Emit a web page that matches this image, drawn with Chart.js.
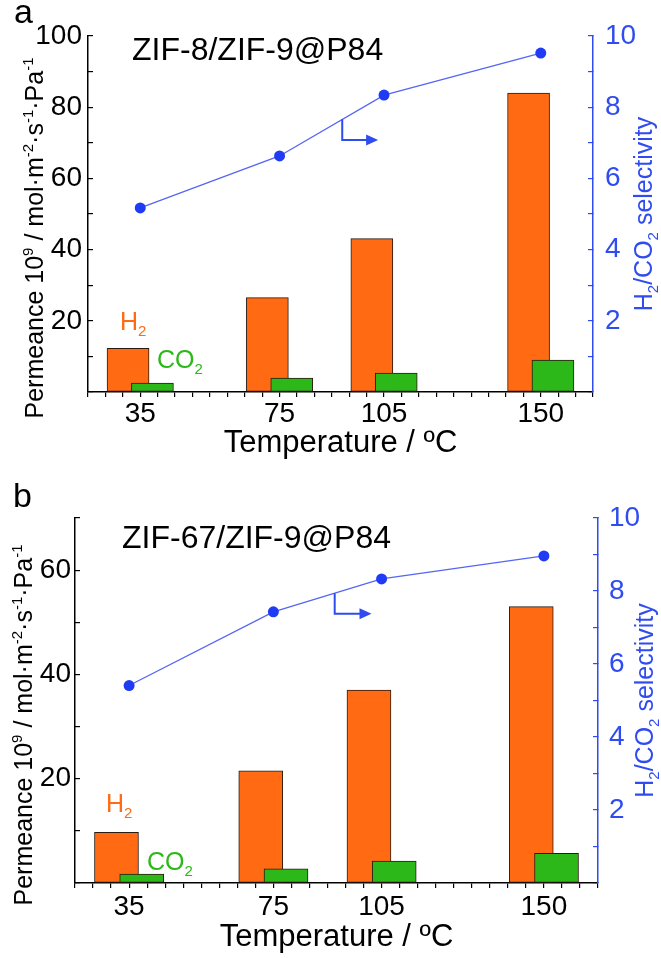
<!DOCTYPE html>
<html>
<head>
<meta charset="utf-8">
<script src="https://cdn.jsdelivr.net/npm/chart.js@4.4.1/dist/chart.umd.min.js"></script>
<style>
html, body { margin: 0; padding: 0; background: #fff; }
.panel { position: relative; width: 661px; }
#pa { height: 470px; }
#pb { height: 488px; }
</style>
</head>
<body>
<div class="panel" id="pa"><canvas id="chartA"></canvas></div>
<div class="panel" id="pb"><canvas id="chartB"></canvas></div>
<script>
// temperatures (ºC) and tick labels
const temps = [35, 75, 105, 150];
const tempLabels = ['35', '75', '105', '150'];

// panel a: ZIF-8/ZIF-9@P84
const h2A = [12.3, 26.5, 43.1, 84.0];
const co2A = [2.5, 3.9, 5.3, 9.0];
const selA = [5.17, 6.63, 8.34, 9.52];

// panel b: ZIF-67/ZIF-9@P84
const h2B = [9.7, 21.5, 37.0, 53.0];
const co2B = [1.7, 2.7, 4.2, 5.7];
const selB = [5.41, 7.43, 8.33, 8.96];

const ORANGE = '#ff6a12';
const GREEN = '#2db81a';
const BLUE = '#2f4cf0';
const FONT = '"Liberation Sans", Arial, sans-serif';
Chart.defaults.font.family = FONT;

const permTitle = [
    { t: 'Permeance 10' }, { t: '9', s: 'sup' }, { t: ' / mol·m' }, { t: '-2', s: 'sup' },
    { t: '·s' }, { t: '-1', s: 'sup' }, { t: '·Pa' }, { t: '-1', s: 'sup' }
];
const selTitle = [{ t: 'H' }, { t: '2', s: 'sub' }, { t: '/CO' }, { t: '2', s: 'sub' }, { t: ' selectivity' }];

function partFont(p, size) {
    return (p.s ? Math.round(size * 0.6) : size) + 'px ' + FONT;
}

function drawRich(ctx, parts, x, y, size, color, rotated) {
    ctx.save();
    ctx.translate(x, y);
    if (rotated) ctx.rotate(-Math.PI / 2);
    ctx.fillStyle = color;
    ctx.textBaseline = 'alphabetic';
    ctx.textAlign = 'left';
    let w = 0;
    parts.forEach(p => { ctx.font = partFont(p, size); w += ctx.measureText(p.t).width; });
    let cx = rotated ? -w / 2 : 0;
    parts.forEach(p => {
        ctx.font = partFont(p, size);
        let dy = 0;
        if (p.s === 'sup') dy = -size * 0.42;
        if (p.s === 'sub') dy = size * 0.24;
        ctx.fillText(p.t, cx, dy);
        cx += ctx.measureText(p.t).width;
    });
    ctx.restore();
}

const decorPlugin = {
    id: 'decor',
    afterDraw(chart, args, o) {
        const ctx = chart.ctx;
        const area = chart.chartArea;
        ctx.save();
        // panel letter and title
        ctx.fillStyle = '#000';
        ctx.font = '34px ' + FONT;
        ctx.fillText(o.letter.text, o.letter.x, o.letter.y);
        ctx.font = '32px ' + FONT;
        ctx.fillText(o.title.text, o.title.x, o.title.y);
        // gas labels
        drawRich(ctx, [{ t: 'H' }, { t: '2', s: 'sub' }], o.h2Label.x, o.h2Label.y, 25, ORANGE, false);
        drawRich(ctx, [{ t: 'CO' }, { t: '2', s: 'sub' }], o.co2Label.x, o.co2Label.y, 25, GREEN, false);
        // arrow pointing to the right axis
        const xs = chart.scales.x, ys = chart.scales.y1;
        const ax = xs.getPixelForValue(o.arrow.x);
        const ay0 = ys.getPixelForValue(o.arrow.yTop);
        const ay1 = ys.getPixelForValue(o.arrow.yBot);
        const ax1 = xs.getPixelForValue(o.arrow.xEnd);
        ctx.strokeStyle = BLUE;
        ctx.fillStyle = BLUE;
        ctx.lineWidth = 2;
        ctx.beginPath();
        ctx.moveTo(ax, ay0);
        ctx.lineTo(ax, ay1);
        ctx.lineTo(ax1 - 10, ay1);
        ctx.stroke();
        ctx.beginPath();
        ctx.moveTo(ax1 - 12, ay1 - 5.5);
        ctx.lineTo(ax1, ay1);
        ctx.lineTo(ax1 - 12, ay1 + 5.5);
        ctx.closePath();
        ctx.fill();
        // axis titles
        drawRich(ctx, permTitle, o.leftTitle.x, o.leftTitle.y, 25, '#000', true);
        drawRich(ctx, selTitle, o.rightTitle.x, (area.top + area.bottom) / 2, 25, BLUE, true);
        ctx.restore();
    }
};

function build(id, p) {
    const barBase = {
        type: 'bar',
        yAxisID: 'y',
        grouped: false,
        barThickness: p.barW,
        borderColor: '#2b1a10',
        borderWidth: 1,
        borderSkipped: false
    };
    return new Chart(document.getElementById(id), {
        type: 'bar',
        data: {
            datasets: [
                {
                    type: 'line',
                    label: 'H2/CO2 selectivity',
                    data: temps.map((t, i) => ({ x: t, y: p.sel[i] })),
                    xAxisID: 'x',
                    yAxisID: 'y1',
                    order: 0,
                    borderColor: '#5566f2',
                    borderWidth: 1.3,
                    pointRadius: 5.5,
                    pointBackgroundColor: '#1f3cf4',
                    pointBorderColor: '#1f3cf4',
                    pointBorderWidth: 0,
                    tension: 0
                },
                Object.assign({}, barBase, {
                    label: 'CO2',
                    data: temps.map((t, i) => ({ x: t, y: p.co2[i] })),
                    xAxisID: 'xC',
                    order: 1,
                    backgroundColor: GREEN
                }),
                Object.assign({}, barBase, {
                    label: 'H2',
                    data: temps.map((t, i) => ({ x: t, y: p.h2[i] })),
                    xAxisID: 'xH',
                    order: 2,
                    backgroundColor: ORANGE
                })
            ]
        },
        options: {
            responsive: true,
            maintainAspectRatio: false,
            animation: false,
            layout: { padding: { top: p.top, left: 0, right: 0, bottom: 0 } },
            plugins: {
                legend: { display: false },
                tooltip: { enabled: false },
                decor: p.decor
            },
            scales: {
                x: {
                    type: 'linear',
                    position: 'bottom',
                    min: 20,
                    max: 165,
                    offset: false,
                    afterFit: s => { s.height = p.xH; },
                    border: { display: true, color: '#000', width: 1.5 },
                    grid: { drawOnChartArea: false, drawTicks: true, tickLength: 5, color: '#000', lineWidth: 1.2, offset: false },
                    ticks: {
                        stepSize: 5,
                        autoSkip: false,
                        maxRotation: 0,
                        padding: p.xPad,
                        color: '#000',
                        font: { size: 28 },
                        callback: v => {
                            const i = temps.indexOf(v);
                            return i >= 0 ? tempLabels[i] : '';
                        }
                    },
                    title: {
                        display: true,
                        text: 'Temperature / ºC',
                        color: '#000',
                        font: { size: 31 },
                        padding: { top: 0, bottom: p.xTitlePad }
                    }
                },
                xH: { type: 'linear', display: false, offset: false, min: 20 + 3.5, max: 165 + 3.5 },
                xC: { type: 'linear', display: false, offset: false, min: 20 - 3.5, max: 165 - 3.5 },
                y: {
                    position: 'left',
                    min: 0,
                    max: p.yMax,
                    afterFit: s => { s.width = p.yW; },
                    border: { display: true, color: '#000', width: 1.5 },
                    grid: { drawOnChartArea: false, drawTicks: true, tickLength: -5, color: '#000', lineWidth: 1.2 },
                    ticks: {
                        stepSize: 10,
                        autoSkip: false,
                        padding: p.yPad,
                        color: '#000',
                        font: { size: 28 },
                        callback: v => (v > 0 && v % 20 === 0) ? v : ''
                    }
                },
                y1: {
                    position: 'right',
                    min: 0,
                    max: 10,
                    afterFit: s => { s.width = p.y1W; },
                    border: { display: true, color: BLUE, width: 1.5 },
                    grid: { drawOnChartArea: false, drawTicks: true, tickLength: -5, color: BLUE, lineWidth: 1.2 },
                    ticks: {
                        stepSize: 1,
                        autoSkip: false,
                        padding: p.y1Pad,
                        color: BLUE,
                        font: { size: 28 },
                        callback: v => (v > 0 && v % 2 === 0) ? v : ''
                    }
                }
            }
        },
        plugins: [decorPlugin]
    });
}

build('chartA', {
    h2: h2A, co2: co2A, sel: selA, yMax: 100,
    top: 36, xH: 78, yW: 88, y1W: 68, barW: 42,
    xPad: 0, xTitlePad: 8, yPad: 11, y1Pad: 17,
    decor: {
        letter: { text: 'a', x: 14, y: 23 },
        title: { text: 'ZIF-8/ZIF-9@P84', x: 132, y: 60 },
        h2Label: { x: 120, y: 330 },
        co2Label: { x: 157, y: 368 },
        arrow: { x: 93, yTop: 7.66, yBot: 7.08, xEnd: 103.3 },
        leftTitle: { x: 43, y: 238 },
        rightTitle: { x: 652 }
    }
});

build('chartB', {
    h2: h2B, co2: co2B, sel: selB, yMax: 70,
    top: 48, xH: 75, yW: 75, y1W: 63, barW: 44,
    xPad: 2, xTitlePad: 2, yPad: 9, y1Pad: 16,
    decor: {
        letter: { text: 'b', x: 13, y: 37 },
        title: { text: 'ZIF-67/ZIF-9@P84', x: 122, y: 78 },
        h2Label: { x: 106, y: 342 },
        co2Label: { x: 147, y: 400 },
        arrow: { x: 92, yTop: 7.94, yBot: 7.38, xEnd: 102.2 },
        leftTitle: { x: 32, y: 255 },
        rightTitle: { x: 653 }
    }
});
</script>
</body>
</html>
